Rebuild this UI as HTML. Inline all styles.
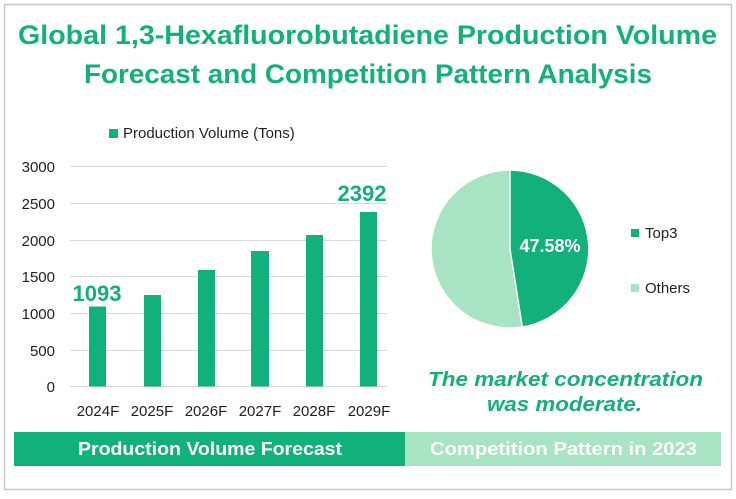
<!DOCTYPE html>
<html><head><meta charset="utf-8"><style>
body{margin:0;width:736px;height:494px;background:#fff;font-family:"Liberation Sans","DejaVu Sans",sans-serif;overflow:hidden}
</style></head><body>
<svg width="736" height="494" xmlns="http://www.w3.org/2000/svg" font-family="Liberation Sans, DejaVu Sans, sans-serif">
<rect x="4.5" y="4.5" width="727" height="485" fill="none" stroke="#c8c8c8" stroke-width="1.5"/>
<text x="18" y="44" font-size="27" font-weight="bold" fill="#12b07b" textLength="699" lengthAdjust="spacingAndGlyphs">Global 1,3-Hexafluorobutadiene Production Volume</text>
<text x="84" y="83" font-size="27" font-weight="bold" fill="#12b07b" textLength="568" lengthAdjust="spacingAndGlyphs">Forecast and Competition Pattern Analysis</text>
<rect x="109" y="129" width="9" height="9" fill="#12b07b"/>
<text x="123" y="138" font-size="15" fill="#222">Production Volume (Tons)</text>
<g stroke="#d9d9d9" stroke-width="1">
<line x1="70" x2="387" y1="166.5" y2="166.5"/><line x1="70" x2="387" y1="203.5" y2="203.5"/>
<line x1="70" x2="387" y1="240.5" y2="240.5"/><line x1="70" x2="387" y1="276.5" y2="276.5"/>
<line x1="70" x2="387" y1="313.5" y2="313.5"/><line x1="70" x2="387" y1="350.5" y2="350.5"/>
<line x1="70" x2="387" y1="386.5" y2="386.5"/></g>
<g font-size="15" fill="#222" text-anchor="end">
<text x="55" y="172">3000</text><text x="55" y="209">2500</text><text x="55" y="246">2000</text>
<text x="55" y="282">1500</text><text x="55" y="319">1000</text><text x="55" y="356">500</text><text x="55" y="392">0</text></g>
<g fill="#12b07b">
<rect x="89" y="306.5" width="17" height="80"/><rect x="144" y="295" width="17" height="91.5"/>
<rect x="198" y="270" width="17" height="116.5"/><rect x="251" y="251" width="18" height="135.5"/>
<rect x="306" y="235" width="17" height="151.5"/><rect x="360" y="212" width="17" height="174.5"/></g>
<g font-size="15" fill="#222" text-anchor="middle">
<text x="98" y="416">2024F</text><text x="152" y="416">2025F</text><text x="206" y="416">2026F</text>
<text x="260" y="416">2027F</text><text x="314" y="416">2028F</text><text x="369" y="416">2029F</text></g>
<text x="97" y="301" text-anchor="middle" font-size="22" font-weight="bold" fill="#12b07b">1093</text>
<text x="362" y="201" text-anchor="middle" font-size="22" font-weight="bold" fill="#12b07b">2392</text>
<circle cx="510" cy="249" r="79" fill="#a8e3c3" stroke="#fff" stroke-width="1.5"/>
<path d="M510,249 L510,170 A79,79 0 0 1 522.3,327 Z" fill="#12b07b" stroke="#fff" stroke-width="1.5"/>
<text x="550" y="252" text-anchor="middle" font-size="18" font-weight="bold" fill="#fff">47.58%</text>
<rect x="631" y="229" width="8" height="8" fill="#12b07b"/><text x="645" y="238" font-size="15" fill="#222">Top3</text>
<rect x="631" y="284" width="8" height="8" fill="#a8e3c3"/><text x="645" y="293" font-size="15" fill="#222">Others</text>
<text x="428" y="386" font-size="20" font-weight="bold" font-style="italic" fill="#12b07b" textLength="275" lengthAdjust="spacingAndGlyphs">The market concentration</text>
<text x="487" y="411" font-size="20" font-weight="bold" font-style="italic" fill="#12b07b" textLength="155" lengthAdjust="spacingAndGlyphs">was moderate.</text>
<rect x="14" y="432" width="391" height="34" fill="#12b07b"/>
<rect x="405" y="432" width="316" height="34" fill="#a8e3c3"/>
<text x="78" y="455" font-size="18" font-weight="bold" fill="#fff" textLength="264" lengthAdjust="spacingAndGlyphs">Production Volume Forecast</text>
<text x="430" y="455" font-size="18" font-weight="bold" fill="#fff" textLength="267" lengthAdjust="spacingAndGlyphs">Competition Pattern in 2023</text>
</svg>
</body></html>
